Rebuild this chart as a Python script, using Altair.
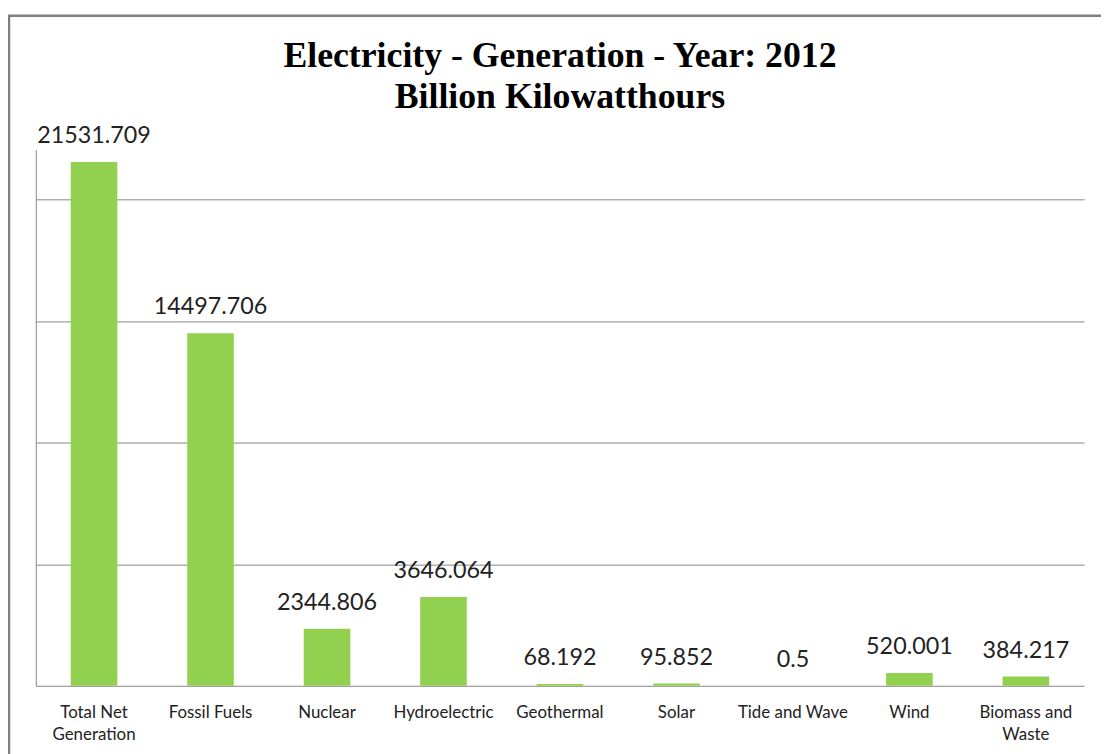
import altair as alt
import pandas as pd

categories = ["Total Net Generation", "Fossil Fuels", "Nuclear", "Hydroelectric",
              "Geothermal", "Solar", "Tide and Wave", "Wind", "Biomass and Waste"]
values = [21531.709, 14497.706, 2344.806, 3646.064, 68.192, 95.852, 0.5, 520.001, 384.217]
value_labels = ["21531.709", "14497.706", "2344.806", "3646.064", "68.192", "95.852", "0.5", "520.001", "384.217"]
grid_values = [5000, 10000, 15000, 20000]

df = pd.DataFrame({"cat": categories, "val": values, "lab": value_labels})

label_expr = ("datum.value == 'Total Net Generation' ? ['Total Net', 'Generation'] : "
              "datum.value == 'Biomass and Waste' ? ['Biomass and', 'Waste'] : datum.label")

x = alt.X("cat:N", sort=categories, title=None,
          scale=alt.Scale(paddingInner=0.6, paddingOuter=0.3),
          axis=alt.Axis(labelExpr=label_expr, labelAngle=0, ticks=False, labelPadding=19,
                        labelFont="Lato", labelFontSize=17, labelColor="#222222",
                        labelLineHeight=22, domainColor="#868686", domainWidth=1, grid=False))
y = alt.Y("val:Q", title=None,
          scale=alt.Scale(domain=[0, 22041], nice=False),
          axis=alt.Axis(values=grid_values, labels=False, ticks=False, domain=True,
                        domainColor="#868686", gridColor="#868686", gridWidth=1, gridOpacity=1))

bars = alt.Chart(df).mark_bar(color="#92D050").encode(x=x, y=y)
texts = alt.Chart(df).mark_text(font="Lato", fontSize=23.5, color="#222222",
                                baseline="alphabetic", dy=-19).encode(
    x=alt.X("cat:N", sort=categories), y="val:Q", text="lab:N")

border = alt.Chart(alt.Data(values=[{"a": 1}])).mark_rect(
    fill=None, stroke="#7f7f7f", strokeWidth=2.5).encode(
    x=alt.value(-27), x2=alt.value(1110), y=alt.value(-135), y2=alt.value(640))

chart = alt.layer(border, bars, texts).properties(
    width=1056, height=540,
    autosize=alt.AutoSizeParams(type="none"),
    padding={"left": 28, "top": 140, "right": 17, "bottom": 66},
    title=alt.TitleParams(["Electricity - Generation - Year: 2012", "Billion Kilowatthours"],
                          font="Liberation Serif", fontSize=36, fontWeight="bold",
                          color="black", anchor="middle", offset=-102, lineHeight=41,
                          frame="group"),
).configure_view(stroke=None)

chart.save("out.html", embed_options={"renderer": "svg", "actions": False})
